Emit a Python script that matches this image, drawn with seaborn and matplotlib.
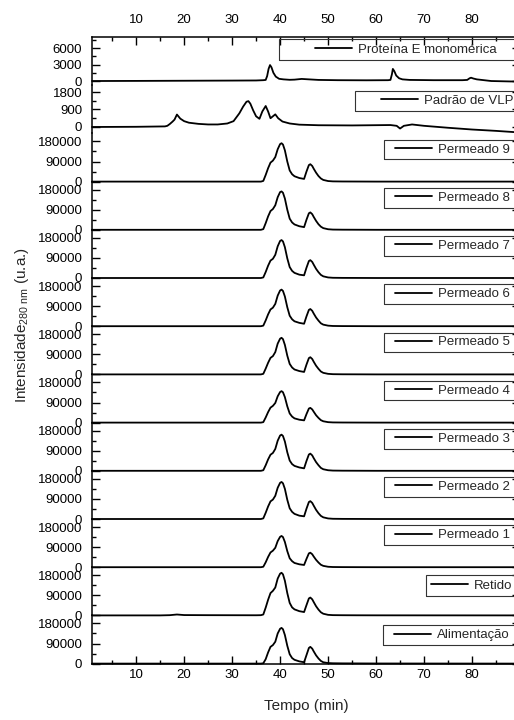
import matplotlib
matplotlib.use("Agg")
import matplotlib.pyplot as plt
import seaborn as sns
import pandas as pd
from matplotlib.ticker import MultipleLocator
from matplotlib.lines import Line2D
from matplotlib.patches import Rectangle

# ---------------- data ----------------
series_names = ["Proteína E monomérica", "Padrão de VLP", "Permeado 9", "Permeado 8",
                "Permeado 7", "Permeado 6", "Permeado 5", "Permeado 4", "Permeado 3",
                "Permeado 2", "Permeado 1", "Retido", "Alimentação"]

time_prot = [0.8, 10, 20, 30, 35, 36.5, 37, 37.3, 37.6, 37.9, 38.2, 38.6, 39.1, 39.8, 40.7,
             42, 43, 44.5, 46, 48, 52, 58, 62.5, 63, 63.3, 63.5, 63.8, 64.2, 64.8, 65.5,
             67, 72, 78, 79, 79.5, 79.8, 80.3, 81, 82, 84, 88, 91]
proteina_e = [0, 20, 50, 80, 100, 150, 200, 900, 2200, 2900, 2500, 1500, 800, 400, 300,
              220, 250, 380, 300, 200, 150, 130, 150, 200, 1200, 2200, 1800, 1000, 500, 300,
              200, 150, 150, 200, 500, 600, 450, 300, 200, 0, -80, -100]

time_vlp = [0.8, 10, 16, 16.5, 17, 17.6, 18, 18.5, 19.2, 20, 21, 23, 25, 27, 29, 30.3, 31.5,
            32.3, 33, 33.4, 33.8, 34.4, 35, 35.7, 36.3, 37, 37.5, 38, 38.5, 39, 39.6, 40.5,
            42, 44, 48, 55, 63, 64.3, 65, 65.8, 67.5, 70, 75, 80, 85, 91]
padrao_vlp = [0, 10, 30, 60, 150, 280, 380, 640, 430, 300, 220, 160, 130, 130, 180, 300, 700,
              1050, 1300, 1330, 1200, 850, 550, 420, 800, 1080, 800, 450, 550, 650, 450, 280,
              180, 120, 90, 80, 100, 60, -80, 60, 130, 60, -40, -130, -200, -300]

time_main = [0.8, 15, 17, 18.5, 20, 25, 30, 35, 36, 36.5, 37, 37.5, 38, 38.5, 39, 39.5, 40,
             40.3, 40.6, 41, 41.5, 42, 42.5, 43, 44, 45, 45.5, 46, 46.3, 46.7, 47, 47.5, 48,
             48.5, 49, 50, 51, 53, 56, 60, 90]
permeado_9 = [0, 0, 0, 0, 0, 0, 0, 0, 0, 3000, 30000, 60000, 85000, 94000, 110000, 145000, 168000,
              172000, 166000, 140000, 90000, 50000, 33000, 24000, 16000, 12000, 45000, 74000,
              78000, 70000, 58000, 40000, 25000, 14000, 7500, 2500, 1000, 500, 300, 0, 0]
permeado_8 = [0, 0, 0, 0, 0, 0, 0, 0, 0, 3000, 30000, 60000, 84000, 93000, 110000, 146000, 169000,
              172000, 166000, 140000, 90000, 50000, 33000, 24000, 16000, 12000, 45000, 74000,
              78000, 70000, 58000, 40000, 25000, 14000, 7500, 2500, 1000, 500, 300, 0, 0]
permeado_7 = [0, 0, 0, 0, 0, 0, 0, 0, 0, 2500, 27000, 55000, 78000, 86000, 104000, 142000, 166000,
              170000, 164000, 138000, 88000, 49000, 32000, 23000, 15000, 12000, 46000, 76000,
              80000, 72000, 60000, 41000, 26000, 14000, 7500, 2500, 1000, 500, 300, 0, 0]
permeado_6 = [0, 0, 0, 0, 0, 0, 0, 0, 0, 2500, 26000, 53000, 75000, 83000, 100000, 137000, 160000,
              164000, 158000, 133000, 85000, 47000, 31000, 22000, 15000, 11000, 44000, 73000,
              77000, 69000, 57000, 39000, 25000, 13000, 7000, 2500, 1000, 500, 300, 0, 0]
permeado_5 = [0, 0, 0, 0, 0, 0, 0, 0, 0, 2500, 26000, 52000, 74000, 82000, 100000, 138000, 160000,
              164000, 158000, 132000, 84000, 47000, 31000, 22000, 15000, 11000, 44000, 73000,
              77000, 69000, 57000, 39000, 25000, 13000, 7000, 2500, 1000, 500, 300, 0, 0]
permeado_4 = [0, 0, 0, 0, 0, 0, 0, 0, 0, 2000, 23000, 47000, 67000, 75000, 88000, 118000, 137000,
              141000, 136000, 114000, 73000, 41000, 27000, 19000, 13000, 10000, 38000, 63000,
              66000, 59000, 49000, 33000, 21000, 11000, 6000, 2000, 800, 400, 200, 0, 0]
permeado_3 = [0, 0, 0, 0, 0, 0, 0, 0, 0, 2500, 25000, 51000, 72000, 80000, 98000, 135000, 158000,
              162000, 156000, 131000, 83000, 46000, 30000, 22000, 15000, 11000, 44000, 73000,
              77000, 69000, 57000, 39000, 25000, 13000, 7000, 2500, 1000, 500, 300, 0, 0]
permeado_2 = [0, 0, 0, 0, 0, 0, 0, 0, 0, 2800, 28000, 56000, 79000, 87000, 104000, 140000, 162000,
              166000, 160000, 135000, 86000, 48000, 32000, 23000, 15000, 12000, 46000, 76000,
              80000, 72000, 60000, 41000, 26000, 14000, 7500, 2500, 1000, 500, 300, 0, 0]
permeado_1 = [0, 0, 0, 0, 0, 0, 0, 0, 0, 2000, 22000, 46000, 66000, 74000, 87000, 117000, 136000,
              140000, 135000, 113000, 72000, 40000, 27000, 19000, 13000, 10000, 37000, 62000,
              65000, 58000, 48000, 33000, 21000, 11000, 6000, 2000, 800, 400, 200, 0, 0]
retido = [0, 0, 1000, 4000, 1500, 1000, 800, 600, 1000, 4000, 35000, 70000, 100000, 110000,
          125000, 165000, 187000, 191000, 184000, 155000, 100000, 56000, 36000, 27000, 19000,
          15000, 46000, 76000, 80000, 72000, 60000, 41000, 26000, 14000, 7500, 2500, 1200, 800,
          500, 300, 0]
alimentacao = [0, 0, 0, 0, 0, 0, 0, 0, 0, 1500, 20000, 50000, 75000, 83000, 98000, 135000, 156000,
               160000, 154000, 128000, 80000, 42000, 25000, 17000, 10000, 6000, 38000, 70000,
               75000, 67000, 55000, 37000, 23000, 12000, 6000, 2500, 1500, 1000, 800, 500, 0]

x_ticks_major = [10, 20, 30, 40, 50, 60, 70, 80]

series_data = [(time_prot, proteina_e), (time_vlp, padrao_vlp),
               (time_main, permeado_9), (time_main, permeado_8), (time_main, permeado_7),
               (time_main, permeado_6), (time_main, permeado_5), (time_main, permeado_4),
               (time_main, permeado_3), (time_main, permeado_2), (time_main, permeado_1),
               (time_main, retido), (time_main, alimentacao)]

# ---------------- style ----------------
sns.set_theme(style="ticks")
plt.rcParams["font.family"] = ["Liberation Sans", "DejaVu Sans"]
plt.rcParams["mathtext.fontset"] = "custom"
plt.rcParams["mathtext.rm"] = "Liberation Sans"
plt.rcParams["mathtext.it"] = "Liberation Sans:italic"
plt.rcParams["mathtext.bf"] = "Liberation Sans:bold"

W, H = 514, 720
fig = plt.figure(figsize=(W / 100, H / 100), dpi=100)
fig.patch.set_facecolor("white")

def fx(px):
    return px / W

def fy(py):
    return 1 - py / H

top_px, panel_px = 37.0, 48.2
left_px, right_px = 92.0, 520.0

# panel y settings: (ymin, ymax, major, minor)
y_settings = [(-760, 8000, 3000, 1500), (-330, 2150, 900, 450)] + \
             [(0, 216000, 90000, 45000)] * 11

# legend boxes: (box_left, box_top, box_bottom, text_right)
legend_boxes = [(279, 39.5, 59.5, 497), (355, 90.5, 111, 513)]
for i in range(2, 11):
    ptop = top_px + panel_px * i
    legend_boxes.append((384, ptop + 6.3, ptop + 26.0, 510))
legend_boxes.append((426, 575, 596, 512))
legend_boxes.append((383, 625, 645, 510))

FS = 9.5
axes = []
n = len(series_names)
for i in range(n):
    bottom = fy(top_px + panel_px * (i + 1))
    ax = fig.add_axes([fx(left_px), bottom, fx(right_px) - fx(left_px), panel_px / H],
                      sharex=axes[0] if axes else None)
    ax.set_facecolor("none")
    axes.append(ax)
    t, v = series_data[i]
    df = pd.DataFrame({"Tempo": t, "Intensidade": v})
    sns.lineplot(data=df, x="Tempo", y="Intensidade", ax=ax, color="black",
                 linewidth=1.3, legend=False)
    for ln in ax.lines:
        ln.set_clip_on(False)
    ymin, ymax, major, minor = y_settings[i]
    ax.set_xlim(0.8, 90)
    ax.set_ylim(ymin, ymax)
    ax.yaxis.set_major_locator(MultipleLocator(major))
    ax.yaxis.set_minor_locator(MultipleLocator(minor))
    ax.set_xlabel("")
    ax.set_ylabel("")
    for s in ["left", "right", "top", "bottom"]:
        ax.spines[s].set_linewidth(1.1)
        ax.spines[s].set_color("black")
    ax.spines["top"].set_visible(i == 0)
    ax.spines["bottom"].set_visible(i == n - 1)
    ax.tick_params(axis="y", which="both", direction="in", left=True, right=True,
                   labelleft=True, labelright=False, labelsize=FS, pad=7,
                   colors="black", width=1.0)
    ax.tick_params(axis="y", which="major", length=5.8)
    ax.tick_params(axis="y", which="minor", length=2.9)
    ax.tick_params(axis="x", which="both", direction="in", bottom=False, top=False,
                   labelbottom=False, labeltop=False, colors="black", width=1.0)

    # legend
    bl, bt, bb, tr = legend_boxes[i]
    handle = Line2D([], [], color="black", linewidth=1.3)
    ax.legend([handle], [series_names[i]], loc="center right",
              bbox_to_anchor=(fx(tr), fy((bt + bb) / 2)), bbox_transform=fig.transFigure,
              frameon=False, borderpad=0, borderaxespad=0, handlelength=2.8,
              handletextpad=0.45, fontsize=FS)
    rect = Rectangle((fx(bl), fy(bb)), fx(540) - fx(bl), fy(bt) - fy(bb),
                     transform=fig.transFigure, fill=False, edgecolor="#333333",
                     linewidth=0.8, clip_on=False, zorder=4)
    ax.add_artist(rect)

# x axis ticks on top of first panel and bottom of last panel
ax_top, ax_bot = axes[0], axes[-1]
ax_bot.xaxis.set_major_locator(MultipleLocator(10))
ax_bot.xaxis.set_minor_locator(MultipleLocator(5))
ax_top.tick_params(axis="x", which="both", top=True, labeltop=True, direction="in",
                   labelsize=FS, pad=8)
ax_top.tick_params(axis="x", which="major", length=5.8)
ax_top.tick_params(axis="x", which="minor", length=2.9)
ax_bot.tick_params(axis="x", which="both", bottom=True, labelbottom=True, direction="in",
                   labelsize=FS, pad=4)
ax_bot.tick_params(axis="x", which="major", length=5.8)
ax_bot.tick_params(axis="x", which="minor", length=2.9)
ax_bot.set_xticks(x_ticks_major)

fig.text(fx(306), fy(706), "Tempo (min)", ha="center", va="center", fontsize=11)
fig.text(fx(22), fy(325), r"Intensidade$_{\mathrm{280\ nm}}$ (u.a.)", rotation=90,
         ha="center", va="center", fontsize=11)

fig.savefig("out.png", dpi=100, facecolor="white")
